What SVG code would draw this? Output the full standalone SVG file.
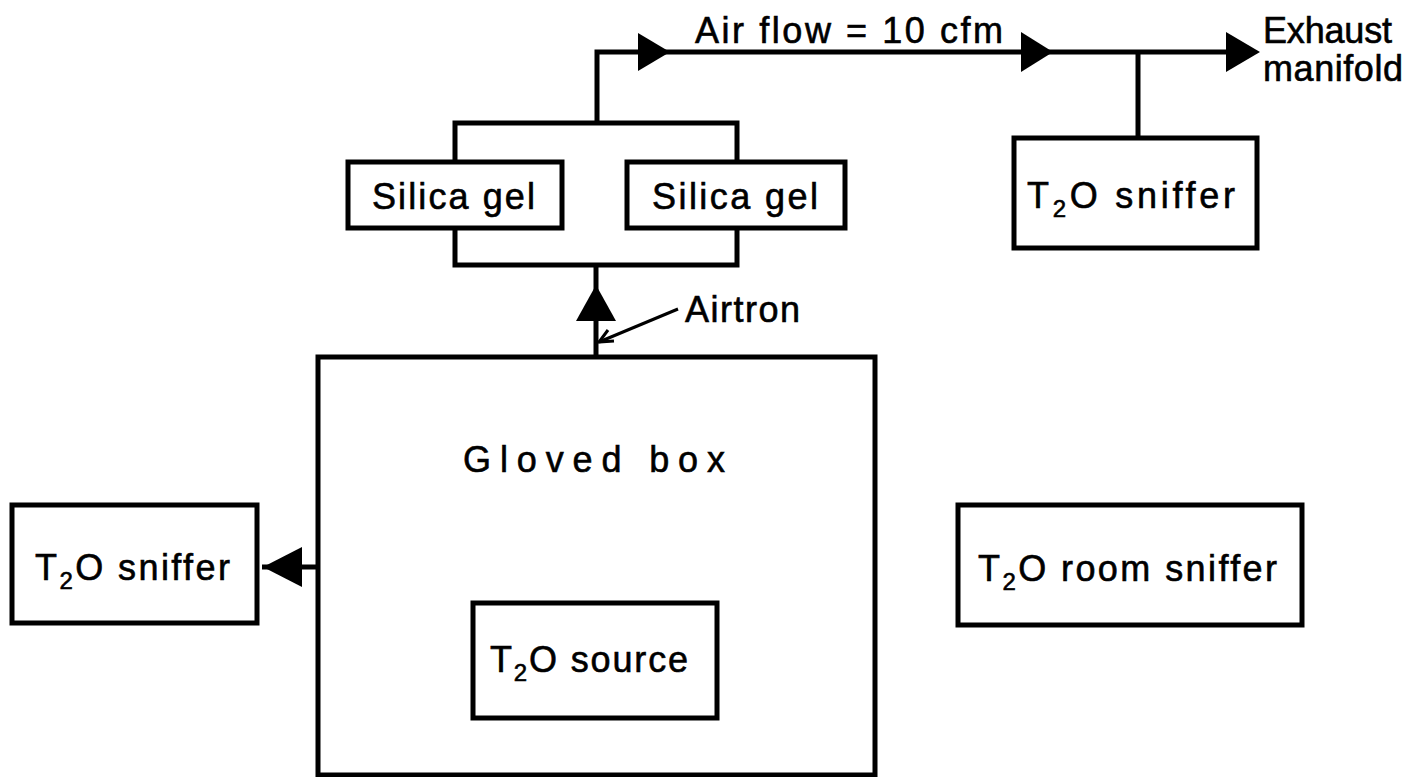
<svg xmlns="http://www.w3.org/2000/svg" width="1414" height="777" viewBox="0 0 1414 777">
<style>
.box{fill:#fff;stroke:#000;stroke-width:5}
.ln{fill:none;stroke:#000;stroke-width:5}
.thin{fill:none;stroke:#000;stroke-width:3}
.ah{fill:#000}
text{font-family:"Liberation Sans","Noto Sans",sans-serif;font-size:36px;fill:#000;stroke:#000;stroke-width:0.6}
.sub{font-size:24px}
</style>
<rect width="1414" height="777" fill="#fff"/>
<g id="connectors">
<polyline class="ln" points="597,123 597,52 1230,52"/>
<line class="ln" x1="1138" y1="52" x2="1138" y2="138"/>
<rect class="ln" x="455" y="123" width="282" height="142"/>
<line class="ln" x1="596" y1="265" x2="596" y2="357"/>
<line class="ln" x1="318" y1="567" x2="262" y2="567"/>
<polygon class="ah" points="638,33 670,52 638,71"/>
<polygon class="ah" points="1021,32 1053,52 1021,72"/>
<polygon class="ah" points="1226,32 1260,52 1226,72"/>
<polygon class="ah" points="596,285 576,321 616,321"/>
<polygon class="ah" points="263,567 302,547 302,587"/>
<line class="thin" x1="678" y1="309" x2="599" y2="342"/>
<polyline class="thin" points="608,330 599,342 614,341"/>
</g>
<g id="silica-left">
<rect class="box" x="348" y="162" width="214" height="66"/>
<text x="372" y="209" textLength="163" lengthAdjust="spacing">Silica gel</text>
</g>
<g id="silica-right">
<rect class="box" x="627" y="162" width="218" height="66"/>
<text x="652" y="209" textLength="166" lengthAdjust="spacing">Silica gel</text>
</g>
<g id="airflow-label">
<text x="695" y="43" textLength="308" lengthAdjust="spacing">Air flow = 10 cfm</text>
</g>
<g id="exhaust">
<text x="1263" y="43" textLength="129" lengthAdjust="spacing">Exhaust</text>
<text x="1263" y="81" textLength="140" lengthAdjust="spacing">manifold</text>
</g>
<g id="sniffer-exhaust">
<rect class="box" x="1014" y="138" width="243" height="110"/>
<text x="1027" y="208" textLength="208" lengthAdjust="spacing">T<tspan class="sub" dy="9">2</tspan><tspan dy="-9">O  sniffer</tspan></text>
</g>
<g id="airtron-label">
<text x="685" y="322" textLength="115" lengthAdjust="spacing">Airtron</text>
</g>
<g id="gloved-box">
<rect class="box" x="318" y="357" width="557" height="418" style="fill:none"/>
<text x="463" y="472" textLength="262" lengthAdjust="spacing">Gloved  box</text>
</g>
<g id="source">
<rect class="box" x="473" y="603" width="244" height="115"/>
<text x="490" y="672" textLength="198" lengthAdjust="spacing">T<tspan class="sub" dy="9">2</tspan><tspan dy="-9">O  source</tspan></text>
</g>
<g id="sniffer-left">
<rect class="box" x="12" y="505" width="245" height="118"/>
<text x="35" y="580" textLength="195" lengthAdjust="spacing">T<tspan class="sub" dy="9">2</tspan><tspan dy="-9">O  sniffer</tspan></text>
</g>
<g id="room-sniffer">
<rect class="box" x="958" y="505" width="344" height="120"/>
<text x="978" y="581" textLength="299" lengthAdjust="spacing">T<tspan class="sub" dy="9">2</tspan><tspan dy="-9">O  room  sniffer</tspan></text>
</g>
</svg>
